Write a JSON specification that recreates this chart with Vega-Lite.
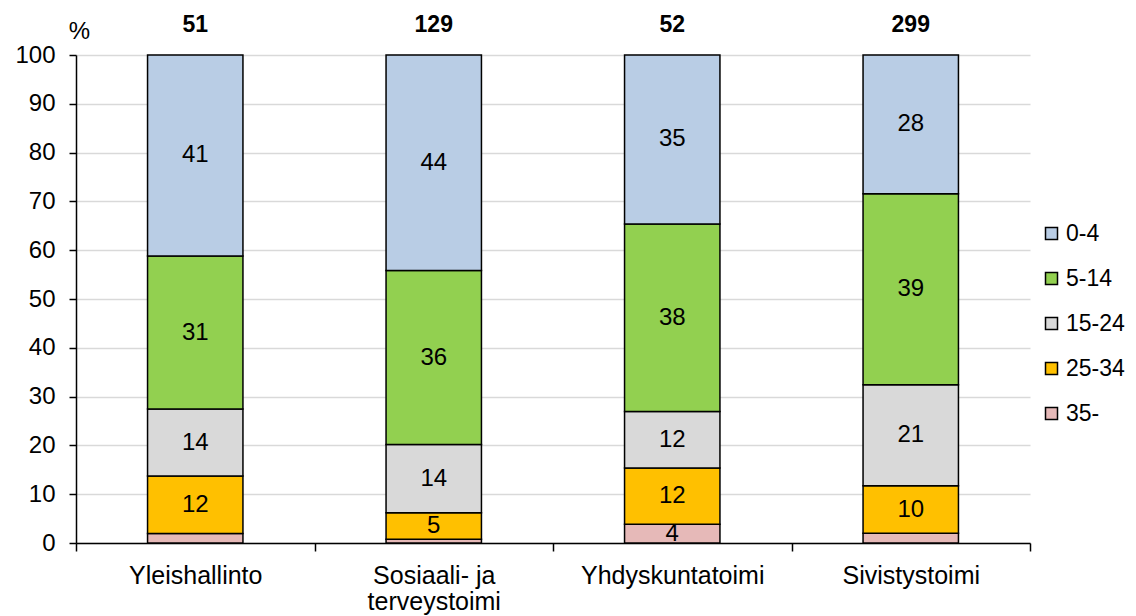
{
  "$schema": "https://vega.github.io/schema/vega-lite/v6.json",
  "width": 954,
  "height": 488,
  "autosize": "none",
  "padding": {"left": 76, "top": 55, "right": 106, "bottom": 73},
  "background": "white",
  "config": {
    "font": "Liberation Sans",
    "view": {"stroke": null}
  },
  "datasets": {
    "shares": [
      {"cat": "Yleishallinto", "group": "35-", "pct": 1.96},
      {"cat": "Yleishallinto", "group": "25-34", "pct": 11.76},
      {"cat": "Yleishallinto", "group": "15-24", "pct": 13.73},
      {"cat": "Yleishallinto", "group": "5-14", "pct": 31.37},
      {"cat": "Yleishallinto", "group": "0-4", "pct": 41.18},
      {"cat": "Sosiaali- ja\nterveystoimi", "group": "35-", "pct": 0.78},
      {"cat": "Sosiaali- ja\nterveystoimi", "group": "25-34", "pct": 5.43},
      {"cat": "Sosiaali- ja\nterveystoimi", "group": "15-24", "pct": 13.95},
      {"cat": "Sosiaali- ja\nterveystoimi", "group": "5-14", "pct": 35.66},
      {"cat": "Sosiaali- ja\nterveystoimi", "group": "0-4", "pct": 44.19},
      {"cat": "Yhdyskuntatoimi", "group": "35-", "pct": 3.85},
      {"cat": "Yhdyskuntatoimi", "group": "25-34", "pct": 11.54},
      {"cat": "Yhdyskuntatoimi", "group": "15-24", "pct": 11.54},
      {"cat": "Yhdyskuntatoimi", "group": "5-14", "pct": 38.46},
      {"cat": "Yhdyskuntatoimi", "group": "0-4", "pct": 34.62},
      {"cat": "Sivistystoimi", "group": "35-", "pct": 2.01},
      {"cat": "Sivistystoimi", "group": "25-34", "pct": 9.70},
      {"cat": "Sivistystoimi", "group": "15-24", "pct": 20.74},
      {"cat": "Sivistystoimi", "group": "5-14", "pct": 39.13},
      {"cat": "Sivistystoimi", "group": "0-4", "pct": 28.43}
    ],
    "totals": [
      {"cat": "Yleishallinto", "n": 51},
      {"cat": "Sosiaali- ja\nterveystoimi", "n": 129},
      {"cat": "Yhdyskuntatoimi", "n": 52},
      {"cat": "Sivistystoimi", "n": 299}
    ]
  },
  "layer": [
    {
      "data": {"name": "shares"},
      "transform": [
        {"calculate": "indexof(['35-','25-34','15-24','5-14','0-4'], datum.group)", "as": "ord"},
        {"stack": "pct", "groupby": ["cat"], "sort": [{"field": "ord", "order": "ascending"}], "as": ["y0", "y1"]}
      ],
      "mark": {"type": "bar", "stroke": "black", "strokeWidth": 1.5, "width": {"band": 0.4}},
      "encoding": {
        "x": {
          "field": "cat", "type": "nominal", "sort": null,
          "scale": {"paddingInner": 0, "paddingOuter": 0},
          "axis": {
            "title": null, "labelAngle": 0, "labelFontSize": 25, "labelColor": "black",
            "labelExpr": "split(datum.label, '\\n')", "labelPadding": 12, "labelLineHeight": 26,
            "tickBand": "extent", "tickSize": 8, "tickColor": "black", "tickWidth": 1.5,
            "domainColor": "black", "domainWidth": 1.5, "labelLimit": 300
          }
        },
        "y": {
          "field": "y0", "type": "quantitative",
          "scale": {"domain": [0, 100]},
          "axis": {
            "values": [0, 10, 20, 30, 40, 50, 60, 70, 80, 90, 100],
            "title": "%", "titleAngle": 0, "titleX": 3, "titleY": -24, "titleAlign": "center",
            "titleBaseline": "middle", "titleFontSize": 24, "titleFontWeight": "normal", "titleColor": "black",
            "labelFontSize": 24, "labelColor": "black", "labelPadding": 14,
            "tickSize": 7, "tickColor": "black", "tickWidth": 1.5,
            "domainColor": "black", "domainWidth": 1.5,
            "grid": true, "gridColor": "#D9D9D9", "gridWidth": 1.5
          }
        },
        "y2": {"field": "y1"},
        "color": {
          "field": "group", "type": "nominal",
          "scale": {
            "domain": ["0-4", "5-14", "15-24", "25-34", "35-"],
            "range": ["#B9CDE5", "#92D050", "#D9D9D9", "#FFC000", "#E6B9B8"]
          },
          "legend": {
            "title": null, "orient": "none", "legendX": 964, "legendY": 167,
            "symbolType": "square", "symbolSize": 144, "symbolStrokeColor": "black", "symbolStrokeWidth": 1.5,
            "labelFontSize": 23, "labelColor": "black", "labelOffset": 3, "rowPadding": 21
          }
        }
      }
    },
    {
      "data": {"name": "shares"},
      "transform": [
        {"calculate": "indexof(['35-','25-34','15-24','5-14','0-4'], datum.group)", "as": "ord"},
        {"stack": "pct", "groupby": ["cat"], "sort": [{"field": "ord", "order": "ascending"}], "as": ["y0", "y1"]},
        {"calculate": "(datum.y0 + datum.y1) / 2", "as": "mid"},
        {"filter": "datum.pct >= 3"}
      ],
      "mark": {"type": "text", "fontSize": 24, "color": "black", "baseline": "middle"},
      "encoding": {
        "x": {"field": "cat", "type": "nominal", "sort": null},
        "y": {"field": "mid", "type": "quantitative"},
        "text": {"field": "pct", "type": "quantitative", "format": ".0f"}
      }
    },
    {
      "data": {"name": "totals"},
      "mark": {"type": "text", "fontSize": 23, "fontWeight": "bold", "color": "black", "baseline": "middle", "dy": -30},
      "encoding": {
        "x": {"field": "cat", "type": "nominal", "sort": null},
        "y": {"datum": 100, "type": "quantitative"},
        "text": {"field": "n", "type": "quantitative"}
      }
    }
  ]
}
